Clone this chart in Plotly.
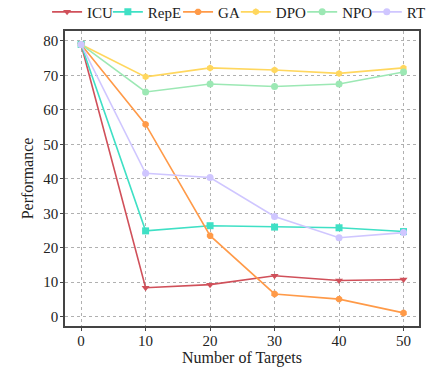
import plotly.graph_objects as go

x = [0, 10, 20, 30, 40, 50]
names = ["ICU", "RepE", "GA", "DPO", "NPO", "RT"]
icu = [79, 8.4, 9.3, 11.9, 10.5, 10.8]
repe = [79, 24.9, 26.4, 26.0, 25.8, 24.7]
ga = [79, 55.8, 23.5, 6.6, 5.1, 1.1]
dpo = [79, 69.6, 72.2, 71.6, 70.6, 72.2]
npo = [79, 65.2, 67.5, 66.8, 67.5, 71.0]
rt = [79, 41.6, 40.4, 29.1, 22.9, 24.4]
series = [icu, repe, ga, dpo, npo, rt]
colors = ["#d0505a", "#3fe0c5", "#ff9a48", "#ffd75e", "#9ce8b4", "#cfc6ff"]
symbols = ["triangle-down", "square", "octagon", "hexagon", "circle", "circle"]
legend_x = [0.110, 0.252, 0.416, 0.551, 0.706, 0.857]

font = "Times New Roman"
fig = go.Figure()
layout_legends = {}
for i, (n, ys, c, s) in enumerate(zip(names, series, colors, symbols)):
    key = "legend" if i == 0 else f"legend{i+1}"
    fig.add_trace(go.Scatter(x=x, y=ys, name=n, mode="lines+markers",
                             line=dict(color=c, width=1.6),
                             marker=dict(symbol=s, size=7, color=c),
                             legend=key))
    layout_legends[key] = dict(orientation="h", x=legend_x[i], y=0.967,
                               xref="container", yref="container",
                               xanchor="left", yanchor="middle",
                               font=dict(size=15), itemwidth=30,
                               bgcolor="rgba(0,0,0,0)")

fig.update_layout(
    width=428, height=367,
    margin=dict(l=65, r=9, t=31, b=41, autoexpand=False),
    plot_bgcolor="white", paper_bgcolor="white",
    font=dict(family=font, size=15, color="#222"),
    showlegend=True,
    **layout_legends,
)
fig.update_xaxes(range=[-2.5, 52.4], tickvals=[0, 10, 20, 30, 40, 50],
                 showgrid=True, gridcolor="#b0b0b0", griddash="dot", gridwidth=1,
                 showline=True, linecolor="#444", linewidth=1.5, mirror=True,
                 ticks="outside", ticklen=3, tickcolor="#444", zeroline=False,
                 ticklabelstandoff=-3,
                 title=dict(text="Number of Targets", font=dict(size=16), standoff=4))
fig.update_yaxes(range=[-2.7, 82.9], tickvals=[0, 10, 20, 30, 40, 50, 60, 70, 80],
                 showgrid=True, gridcolor="#b0b0b0", griddash="dot", gridwidth=1,
                 showline=True, linecolor="#444", linewidth=1.5, mirror=True,
                 ticks="outside", ticklen=3, tickcolor="#444", zeroline=False,
                 ticklabelstandoff=-1,
                 title=dict(text="Performance", font=dict(size=16), standoff=6))
fig.write_html("out.html")
